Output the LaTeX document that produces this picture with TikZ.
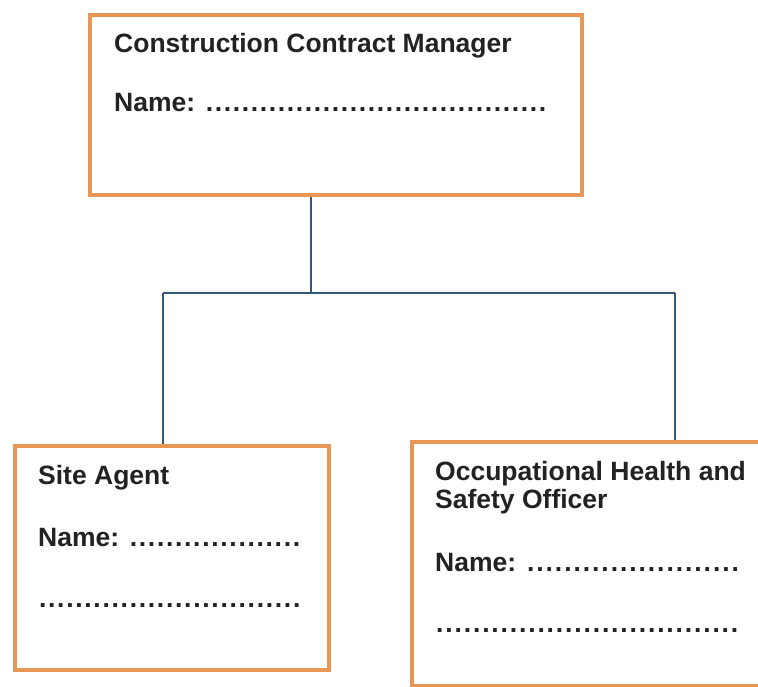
\documentclass[tikz,border=0pt]{standalone}
\usepackage{fontspec}
\setmainfont{Liberation Sans}
\usepackage{tikz}

\definecolor{boxorange}{RGB}{232,150,86}
\definecolor{linkblue}{RGB}{52,88,122}
\definecolor{inkgray}{RGB}{34,34,34}

% row of dots of a given width
\newcommand{\dotrule}[1]{\hbox to #1{\xleaders\hbox to 9pt{\hss.\hss}\hfill}}

\begin{document}
\begin{tikzpicture}[x=1pt,y=-1pt]
  \tikzset{post/.style = {draw=boxorange,line width=4pt,fill=white,anchor=north west,inner sep=0pt}}
  \tikzset{txt/.style = {anchor=base west,inner sep=0pt,text=inkgray,font=\bfseries\fontsize{26.5}{30}\selectfont}}
  \tikzset{link/.style = {draw=linkblue,line width=1.5pt}}
  \useasboundingbox (0,0) rectangle (758,687);

	\node[post,minimum width=492pt,minimum height=180pt] (CCM) at (88,13) {};
	\node[post,minimum width=314pt,minimum height=224pt] (SA) at (13,444) {};
	\node[post,minimum width=352pt,minimum height=244pt] (OHS) at (410,440) {};

	\node[txt] (CCMtitle) at (114,53) {Construction Contract Manager};
	\node[txt] (CCMname) at (114,112) {Name: \dotrule{342pt}};

	\node[txt] (SAtitle) at (38,484) {Site Agent};
	\node[txt] (SAname) at (38,546) {Name: \dotrule{172pt}};
	\node[txt] (SAextra) at (38,607) {\dotrule{263pt}};

	\node[txt] (OHStitle) at (435,480) {Occupational Health and};
	\node[txt] (OHStitleb) at (435,508) {Safety Officer};
	\node[txt] (OHSname) at (435,571) {Name: \dotrule{214pt}};
	\node[txt] (OHSextra) at (435,632) {\dotrule{304pt}};

	\coordinate (J) at (311,293);
	\coordinate (JL) at (163,293);
	\coordinate (JR) at (675,293);

       \foreach \from/\to in {J/CCM.south, JL/SA.north, JR/OHS.north}
    \path[link] (\from) -- (\from |- \to);
    \path[link] (JL) -- (JR);
\end{tikzpicture}
\end{document}
